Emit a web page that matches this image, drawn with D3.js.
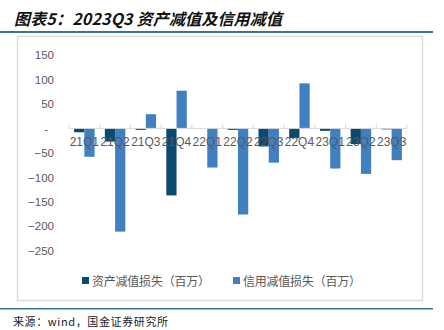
<!DOCTYPE html>
<html>
<head>
<meta charset="utf-8">
<script src="https://cdn.jsdelivr.net/npm/d3@7"></script>
<style>
  html, body { margin: 0; padding: 0; background: #fff; }
  svg { display: block; }
</style>
</head>
<body>
<svg id="chart" width="444" height="330"></svg>
<script>
const categories = ['21Q1','21Q2','21Q3','21Q4','22Q1','22Q2','22Q3','22Q4','23Q1','23Q2','23Q3'];
const assetImpairment = [-8, -27, -3, -137, 0, -3, -37, -20, -5, -32, -2];
const creditImpairment = [-58, -211, 29, 77, -80, -176, -70, 92, -82, -93, -65];
const seriesNames = ['资产减值损失（百万）', '信用减值损失（百万）'];
const yTicks = [150, 100, 50, 0, -50, -100, -150, -200, -250];
const titleText = '图表5：2023Q3 资产减值及信用减值';
const sourceText = '来源：wind，国金证券研究所';

const colors = ['#0b4a70', '#4080c1'];
const svg = d3.select('#chart');
const latin = "'Liberation Sans', Arial, sans-serif";
const cjk = "'Noto Sans CJK SC', sans-serif";

// Title
svg.append('text').attr('x', 14).attr('y', 25)
  .attr('font-family', cjk).attr('font-size', 16).attr('font-weight', 'bold')
  .attr('font-style', 'italic').attr('fill', '#111')
  .attr('textLength', 268).attr('lengthAdjust', 'spacing').text(titleText);
svg.append('rect').attr('x', 0).attr('y', 31).attr('width', 433).attr('height', 2).attr('fill', '#3a7390');

// Frame
svg.append('rect').attr('x', 17.5).attr('y', 36.5).attr('width', 405).attr('height', 264)
  .attr('fill', 'none').attr('stroke', '#dcdcdc').attr('stroke-width', 1.5);

// Scales
const x0 = d3.scaleBand().domain(categories).range([69, 407]).paddingInner(0).paddingOuter(0);
const x1 = d3.scaleBand().domain([0, 1]).range([0, x0.bandwidth()]).paddingInner(0).paddingOuter(0.5);
const y = d3.scaleLinear().domain([-250, 150]).range([250.7, 55]);

// Y axis labels
const yAxis = d3.axisLeft(y).tickValues(yTicks).tickSize(0)
  .tickFormat(d => d === 0 ? '-' : d3.format('d')(d));
const yg = svg.append('g').attr('transform', 'translate(57,0)').call(yAxis);
yg.select('.domain').remove();
yg.selectAll('text').attr('font-family', latin).attr('font-size', 11.5).attr('fill', '#595959')
  .attr('dx', d => d === 0 ? -6 : 0);

// Bars
const series = [assetImpairment, creditImpairment];
series.forEach((vals, si) => {
  svg.append('g').selectAll('rect').data(vals).join('rect')
    .attr('x', (d, i) => x0(categories[i]) + x1(si))
    .attr('width', x1.bandwidth())
    .attr('y', d => y(Math.max(0, d)))
    .attr('height', d => Math.abs(y(d) - y(0)))
    .attr('fill', colors[si]);
});

// X axis line & ticks
const xg = svg.append('g');
xg.append('line').attr('x1', 69).attr('x2', 407).attr('y1', y(0)).attr('y2', y(0))
  .attr('stroke', '#d9d9d9').attr('stroke-width', 1);
const boundaries = categories.map(c => x0(c)).concat([x0(categories[categories.length - 1]) + x0.bandwidth()]);
xg.selectAll('line.tick').data(boundaries).join('line').attr('class', 'tick')
  .attr('x1', d => d).attr('x2', d => d).attr('y1', y(0) - 4).attr('y2', y(0))
  .attr('stroke', '#d9d9d9').attr('stroke-width', 1);

// X labels
svg.append('g').selectAll('text').data(categories).join('text')
  .attr('x', d => x0(d) + x0.bandwidth() / 2).attr('y', 146)
  .attr('text-anchor', 'middle').attr('font-family', latin).attr('font-size', 12)
  .attr('fill', '#595959').text(d => d);

// Legend
const legendX = [82, 233];
seriesNames.forEach((name, i) => {
  svg.append('rect').attr('x', legendX[i]).attr('y', 277).attr('width', 7).attr('height', 7).attr('fill', colors[i]);
  svg.append('text').attr('x', legendX[i] + 10).attr('y', 285.5)
    .attr('font-family', cjk).attr('font-size', 12).attr('fill', '#595959')
    .attr('textLength', 118).attr('lengthAdjust', 'spacing').text(name);
});

// Bottom line & source
svg.append('rect').attr('x', 0).attr('y', 308).attr('width', 433).attr('height', 1.5).attr('fill', '#3a7390');
svg.append('text').attr('x', 13).attr('y', 326)
  .attr('font-family', cjk).attr('font-size', 11).attr('fill', '#222')
  .attr('textLength', 155).attr('lengthAdjust', 'spacing').text(sourceText);
</script>
</body>
</html>
